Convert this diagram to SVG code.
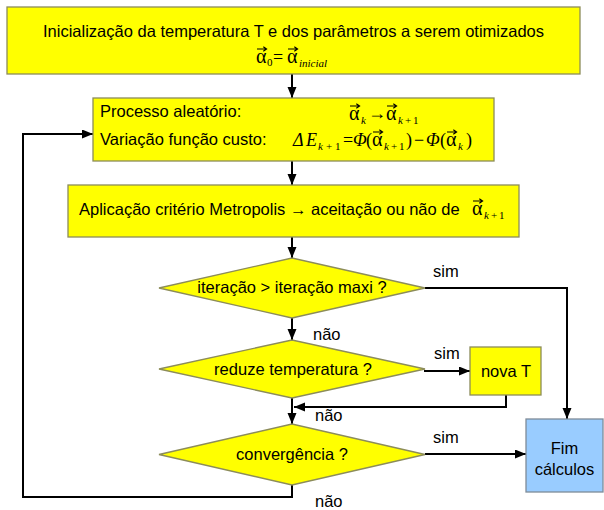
<svg xmlns="http://www.w3.org/2000/svg" xmlns:xlink="http://www.w3.org/1999/xlink" width="604" height="510" viewBox="0 0 604 510">
<style>
.box{fill:#ffff00;stroke:#8c8c5a;stroke-width:1.3}
.end{fill:#99ccff;stroke:#7f8c99;stroke-width:1.3}
.t{font-family:"Liberation Sans",Arial,sans-serif;font-size:16.5px;fill:#000}
.c{text-anchor:middle}
.m{font-family:"Liberation Serif","Times New Roman",serif;font-size:18px;fill:#000}
.a{font-size:20px}
.i{font-style:italic}
.s{font-size:11px}
.ln{fill:none;stroke:#000;stroke-width:2}
.ar{marker-end:url(#ah)}
</style>
<defs>
<marker id="ah" markerUnits="userSpaceOnUse" markerWidth="12" markerHeight="10" refX="11" refY="4.5" orient="auto">
<path d="M0,0 L11,4.5 L0,9 z" fill="#000"/>
</marker>
<path id="vec" d="M0,0 H9 M6.3,-2.2 L9.6,0 L6.3,2.2" fill="none" stroke="#000" stroke-width="1.1"/>
</defs>
<rect width="604" height="510" fill="#fff"/>

<g id="connectors">
<path class="ln ar" d="M292,74 V98"/>
<path class="ln ar" d="M292,161 V185"/>
<path class="ln ar" d="M292,237 V258"/>
<path class="ln ar" d="M425,288 H567 V419"/>
<path class="ln ar" d="M292,318 V340"/>
<path class="ln ar" d="M424,371 H470"/>
<path class="ln ar" d="M506,395 V407 H294"/>
<path class="ln ar" d="M292,398 V424"/>
<path class="ln ar" d="M425,454 H526"/>
<path class="ln ar" d="M292,485 V497 H23 V134 H93"/>
<text class="t" x="433" y="277">sim</text>
<text class="t" x="313" y="340">não</text>
<text class="t" x="434" y="359">sim</text>
<text class="t" x="315" y="421">não</text>
<text class="t" x="433" y="443">sim</text>
<text class="t" x="315" y="507">não</text>
</g>

<g id="init">
<rect class="box" x="7" y="7" width="573" height="67"/>
<text class="t" x="43" y="37">Inicialização da temperatura T e dos parâmetros a serem otimizados</text>
<text class="m a" x="256" y="63">α</text>
<use xlink:href="#vec" x="257" y="49"/>
<text class="m s" x="267" y="66">0</text>
<text class="m" x="273" y="63">=</text>
<text class="m a" x="287" y="63">α</text>
<use xlink:href="#vec" x="288" y="49"/>
<text class="m i s" x="299" y="67">inicial</text>
</g>

<g id="processo">
<rect class="box" x="93" y="98" width="401" height="63"/>
<text class="t" x="100" y="117">Processo aleatório:</text>
<text class="t" x="100" y="145">Variação função custo:</text>
<text class="m a" x="349" y="120">α</text>
<use xlink:href="#vec" x="350" y="106"/>
<text class="m i s" x="361" y="124">k</text>
<text class="m" x="368" y="119" font-size="17">→</text>
<text class="m a" x="386" y="120">α</text>
<use xlink:href="#vec" x="387" y="106"/>
<text class="m i s" x="398" y="124">k</text>
<text class="m s" x="405" y="124">+</text>
<text class="m s" x="413" y="124">1</text>

<text class="m i" x="293" y="146" font-size="17">Δ</text>
<text class="m i" x="306" y="146">E</text>
<text class="m i s" x="318" y="150">k</text>
<text class="m s" x="326" y="150">+</text>
<text class="m s" x="335" y="150">1</text>
<text class="m" x="343" y="146">=</text>
<text class="m i" x="353" y="146" font-size="15.5">Φ</text>
<text class="m" x="366" y="146">(</text>
<text class="m a" x="372" y="146">α</text>
<use xlink:href="#vec" x="373" y="132"/>
<text class="m i s" x="384" y="150">k</text>
<text class="m s" x="391" y="150">+</text>
<text class="m s" x="399" y="150">1</text>
<text class="m" x="406" y="146">)</text>
<text class="m" x="414" y="146">−</text>
<text class="m i" x="426" y="146" font-size="15.5">Φ</text>
<text class="m" x="440" y="146">(</text>
<text class="m a" x="446" y="146">α</text>
<use xlink:href="#vec" x="447" y="132"/>
<text class="m i s" x="458" y="150">k</text>
<text class="m" x="466" y="146">)</text>
</g>

<g id="metropolis">
<rect class="box" x="68" y="185" width="451" height="52"/>
<text class="t" x="79" y="215">Aplicação critério Metropolis → aceitação ou não de</text>
<text class="m a" x="472" y="215">α</text>
<use xlink:href="#vec" x="473" y="201"/>
<text class="m i s" x="484" y="219">k</text>
<text class="m s" x="491" y="219">+</text>
<text class="m s" x="499" y="219">1</text>
</g>

<g id="iteracao">
<polygon class="box" points="159,288 292,258 425,288 292,318"/>
<text class="t c" x="292" y="293">iteração &gt; iteração maxi ?</text>
</g>

<g id="reduze">
<polygon class="box" points="159,369 292,340 425,369 292,398"/>
<text class="t c" x="293" y="375">reduze temperatura ?</text>
</g>

<g id="novaT">
<rect class="box" x="470" y="347" width="71" height="48"/>
<text class="t c" x="506" y="377">nova T</text>
</g>

<g id="convergencia">
<polygon class="box" points="159,454.5 292,424 425,454.5 292,485"/>
<text class="t c" x="292" y="460">convergência ?</text>
</g>

<g id="fim">
<rect class="end" x="526" y="419" width="77" height="73"/>
<text class="t c" x="564.5" y="454">Fim</text>
<text class="t c" x="564.5" y="475">cálculos</text>
</g>
</svg>
